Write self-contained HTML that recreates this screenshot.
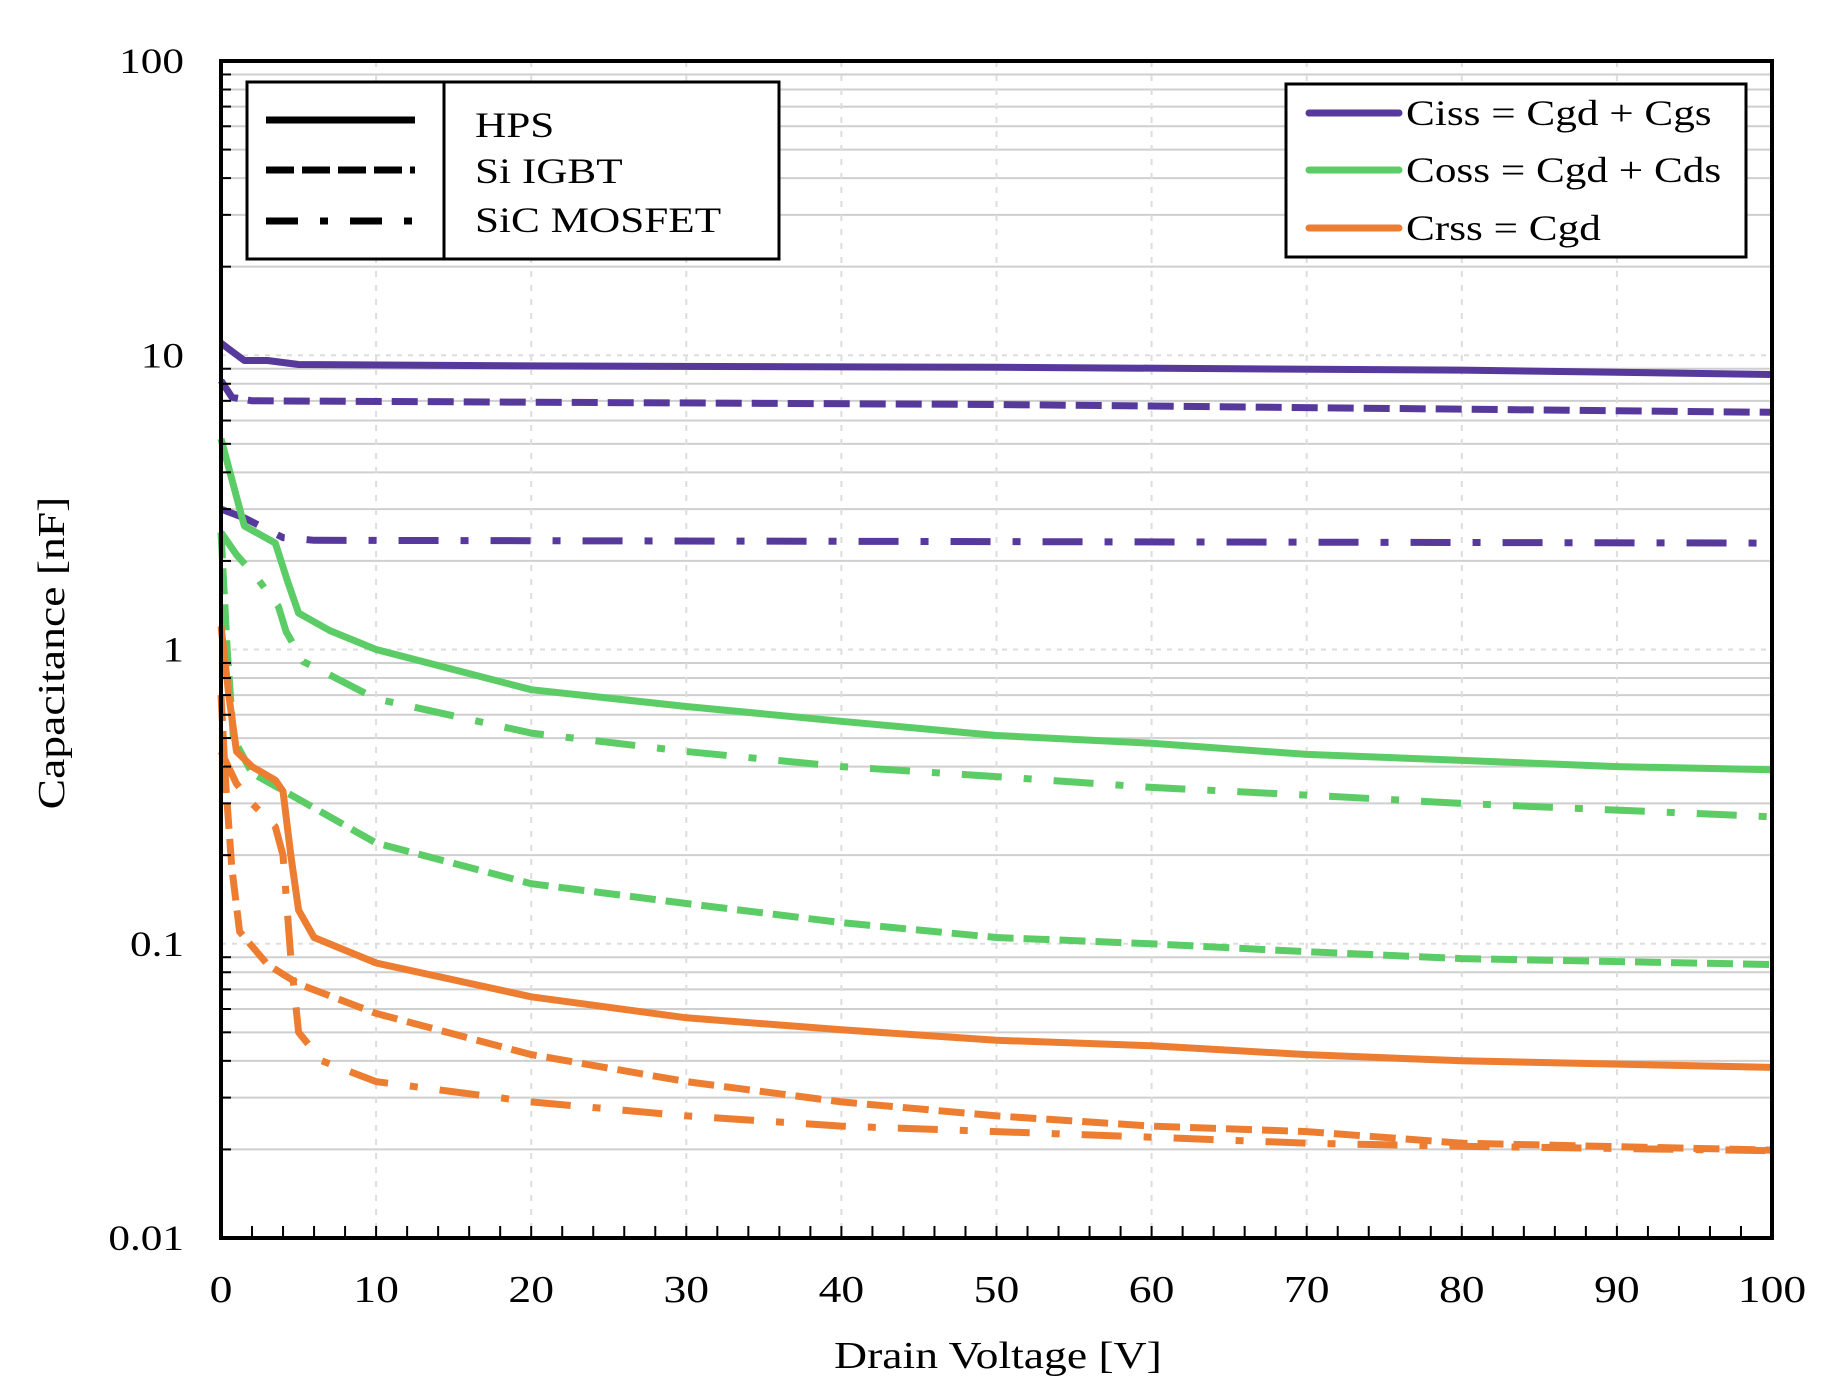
<!DOCTYPE html>
<html><head><meta charset="utf-8"><style>
html,body{margin:0;padding:0;background:#fff;}
svg{display:block;font-family:"Liberation Serif",serif;}
</style></head><body>
<svg id="chart" width="1827" height="1393" viewBox="0 0 1827 1393" xmlns="http://www.w3.org/2000/svg">
<g id="grid"></g>
<g id="series"></g>
<g id="axes"></g>
<g>
<rect x="247" y="82" width="532" height="177" fill="#fff" stroke="#000" stroke-width="3"/>
<line x1="444" y1="82" x2="444" y2="259" stroke="#000" stroke-width="3"/>
<line x1="266" y1="120" x2="415" y2="120" stroke="#000" stroke-width="7"/>
<line x1="266" y1="170" x2="415" y2="170" stroke="#000" stroke-width="7" stroke-dasharray="28,8"/>
<line x1="266" y1="221" x2="415" y2="221" stroke="#000" stroke-width="7" stroke-dasharray="32,22,8,22"/>
<text class="sx" x="475" y="137" font-size="36">HPS</text>
<text class="sx" x="475" y="183" font-size="36">Si IGBT</text>
<text class="sx" x="475" y="232" font-size="36">SiC MOSFET</text>
</g>
<g>
<rect x="1286" y="84" width="460" height="173" fill="#fff" stroke="#000" stroke-width="3"/>
<line x1="1309" y1="113" x2="1399" y2="113" stroke="#56399b" stroke-width="7" stroke-linecap="round"/>
<line x1="1309" y1="170" x2="1399" y2="170" stroke="#5ccc66" stroke-width="7" stroke-linecap="round"/>
<line x1="1309" y1="228" x2="1399" y2="228" stroke="#ed7d31" stroke-width="7" stroke-linecap="round"/>
<text class="sx" x="1406" y="125" font-size="36">Ciss = Cgd + Cgs</text>
<text class="sx" x="1406" y="182" font-size="36">Coss = Cgd + Cds</text>
<text class="sx" x="1406" y="240" font-size="36">Crss = Cgd</text>
</g>
<text class="sx" x="998" y="1368" font-size="38" text-anchor="middle">Drain Voltage [V]</text>
<text class="sx" transform="translate(64,653) rotate(-90)" font-size="38" text-anchor="middle">Capacitance [nF]</text>
</svg>
<script>
const xTicks=[0,10,20,30,40,50,60,70,80,90,100];
const yTicks=[0.01,0.1,1,10,100];
const yTickLabels=["0.01","0.1","1","10","100"];
const cissHpsV=[0,0.5,1.5,3,5,20,50,80,100];
const cissHpsC=[11,10.5,9.6,9.6,9.3,9.2,9.1,8.9,8.6];
const cissIgbtV=[0,0.7,2,50,100];
const cissIgbtC=[8.2,7.2,7,6.8,6.4];
const cissSicV=[0,1.5,4,6,100];
const cissSicC=[3,2.8,2.4,2.35,2.3];
const cossHpsV=[0,1.5,3.5,4.3,5,7,10,20,30,40,50,60,70,80,90,100];
const cossHpsC=[5.2,2.63,2.3,1.7,1.33,1.16,1.0,0.73,0.64,0.57,0.51,0.48,0.44,0.42,0.40,0.39];
const cossIgbtV=[0,0.4,0.8,2,5,10,20,30,40,50,60,70,80,100];
const cossIgbtC=[2.5,1.0,0.5,0.38,0.31,0.22,0.16,0.137,0.118,0.105,0.1,0.094,0.089,0.085];
const cossSicV=[0,1,2.4,3.7,4.2,5.3,7,10,20,30,40,50,60,70,80,100];
const cossSicC=[2.5,2.1,1.73,1.4,1.15,0.91,0.82,0.68,0.52,0.45,0.40,0.37,0.34,0.32,0.30,0.27];
const crssHpsV=[0,0.5,1,2,3.5,4,4.5,5,6,10,20,30,40,50,60,70,80,100];
const crssHpsC=[1.2,0.7,0.45,0.4,0.36,0.33,0.2,0.13,0.105,0.086,0.066,0.056,0.051,0.047,0.045,0.042,0.040,0.038];
const crssIgbtV=[0,0.3,0.7,1.2,3,5,10,20,30,40,50,60,70,80,100];
const crssIgbtC=[0.7,0.35,0.18,0.11,0.085,0.073,0.058,0.042,0.034,0.029,0.026,0.024,0.023,0.021,0.0199];
const crssSicV=[0,1,2,3.5,4,4.5,5,6.5,10,20,30,40,50,60,70,80,100];
const crssSicC=[0.45,0.35,0.3,0.25,0.2,0.09,0.05,0.04,0.034,0.029,0.026,0.024,0.023,0.022,0.021,0.0205,0.0198];

const L=221,R=1772,T=61,B=1238;
const xs=v=>L+(v/100)*(R-L);
const ys=c=>T+(2-Math.log10(c))/4*(B-T);
const NS="http://www.w3.org/2000/svg";
function mk(tag,parent,attrs){const e=document.createElementNS(NS,tag);for(const k in attrs)e.setAttribute(k,attrs[k]);parent.appendChild(e);return e;}
const grid=document.getElementById('grid'),axes=document.getElementById('axes'),ser=document.getElementById('series');
for(let d=-2;d<2;d++){for(let m=2;m<=9;m++){const y=ys(m*Math.pow(10,d));
const g=mk('line',grid,{x1:L,x2:R,y1:y,y2:y,stroke:'#cfcfcf','stroke-width':2});


mk('line',axes,{x1:L,x2:L+10,y1:y,y2:y,stroke:'#000','stroke-width':2});}}
for(let i=0;i<yTicks.length;i++){const y=ys(yTicks[i]);
const g=mk('line',grid,{x1:L,x2:R,y1:y,y2:y,stroke:'#ddd','stroke-width':2,'stroke-dasharray':'5,6'});


const t=mk('text',axes,{x:184,y:y+12,'font-size':36,'text-anchor':'end','class':'sx'});t.textContent=yTickLabels[i];

}
for(let v=2;v<100;v+=2){const x=xs(v);mk('line',axes,{x1:x,x2:x,y1:B,y2:B-12,stroke:'#000','stroke-width':2});}
for(const v of xTicks){const x=xs(v);
if(v>0&&v<100){const g=mk('line',grid,{x1:x,x2:x,y1:T,y2:B,stroke:'#ddd','stroke-width':2,'stroke-dasharray':'6,8'});

}
const t=mk('text',axes,{x:x,y:1302,'font-size':38,'text-anchor':'middle','class':'sx'});t.textContent=v;

}
const frame=mk('rect',axes,{x:L,y:T,width:R-L,height:B-T,fill:'none',stroke:'#000','stroke-width':4});


const series=[
['ciss-hps',cissHpsV,cissHpsC,'#56399b',''],['ciss-igbt',cissIgbtV,cissIgbtC,'#56399b','26,10'],['ciss-sic',cissSicV,cissSicC,'#56399b','40,22,8,22'],
['coss-hps',cossHpsV,cossHpsC,'#5ccc66',''],['coss-igbt',cossIgbtV,cossIgbtC,'#5ccc66','26,10'],['coss-sic',cossSicV,cossSicC,'#5ccc66','40,22,8,22'],
['crss-hps',crssHpsV,crssHpsC,'#ed7d31',''],['crss-igbt',crssIgbtV,crssIgbtC,'#ed7d31','26,10'],['crss-sic',crssSicV,crssSicC,'#ed7d31','40,22,8,22']];
for(const s of series){const d=s[1].map((v,i)=>(i?'L':'M')+xs(v).toFixed(1)+','+ys(s[2][i]).toFixed(1)).join(' ');
const p=mk('path',ser,{d:d,fill:'none',stroke:s[3],'stroke-width':7,'stroke-linejoin':'round'});
if(s[4])p.setAttribute('stroke-dasharray',s[4]);

}
document.querySelectorAll('text.sx').forEach(t=>{const w=t.getComputedTextLength();t.setAttribute('textLength',(w*1.2).toFixed(1));t.setAttribute('lengthAdjust','spacingAndGlyphs');});
</script>
</body></html>
